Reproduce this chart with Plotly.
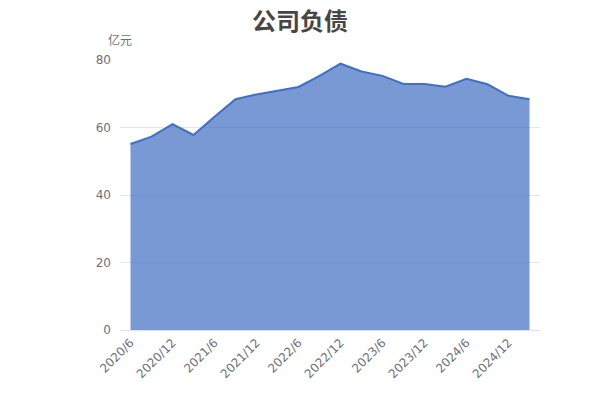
import plotly.graph_objects as go

periods = ["2020/6", "2020/9", "2020/12", "2021/3", "2021/6", "2021/9", "2021/12", "2022/3",
           "2022/6", "2022/9", "2022/12", "2023/3", "2023/6", "2023/9", "2023/12", "2024/3",
           "2024/6", "2024/9", "2024/12", "2025/3"]
liabilities = [55.1, 57.3, 61.0, 57.8, 63.2, 68.4, 69.8, 70.8, 72.0, 75.3, 78.9, 76.6,
               75.3, 72.9, 72.9, 72.1, 74.4, 72.8, 69.4, 68.4]
tick_labels = periods[::2]
y_ticks = [0, 20, 40, 60, 80]

fig = go.Figure()
fig.add_trace(go.Scatter(
    x=periods, y=liabilities, mode="lines",
    line=dict(color="#3F6FC6", width=2),
    fill="tozeroy", fillcolor="rgba(68,114,196,0.72)",
    hoverinfo="x+y", showlegend=False,
))

tick_font = "DejaVu Sans, Verdana, sans-serif"
cjk_font = "Noto Sans CJK SC, Noto Sans, sans-serif"
fig.update_layout(
    width=600, height=400,
    margin=dict(l=112, r=68, t=52, b=78, autoexpand=False),
    paper_bgcolor="white", plot_bgcolor="white",
    font=dict(family=tick_font, color="#6E7079", size=12),
    title=dict(text="<b>公司负债</b>", x=0.4867, xanchor="center", y=0.966, yanchor="middle",
               font=dict(size=24, color="#464646", family=cjk_font)),
    xaxis=dict(
        type="category", categoryorder="array", categoryarray=periods,
        range=[-0.5, len(periods) - 0.5],
        tickmode="array", tickvals=tick_labels, ticktext=tick_labels,
        tickangle=-45, showgrid=False, zeroline=False, automargin=False,
        showline=True, linecolor="#DDE3EE", linewidth=1,
        ticks="", tickfont=dict(size=12, color="#6E7079", family=tick_font),
    ),
    yaxis=dict(
        range=[0, 80], tickmode="array", tickvals=y_ticks, automargin=False,
        showgrid=True, gridcolor="#E0E6F1", gridwidth=1,
        zeroline=False, showline=False, ticks="",
        tickfont=dict(size=12, color="#6E7079", family=tick_font), ticklabelstandoff=8,
    ),
    annotations=[dict(text="亿元", xref="paper", yref="paper", x=-0.033, y=1.075,
                      xanchor="left", yanchor="middle", showarrow=False,
                      font=dict(size=12, color="#6E7079", family=cjk_font))],
)

fig.write_html("out.html")
